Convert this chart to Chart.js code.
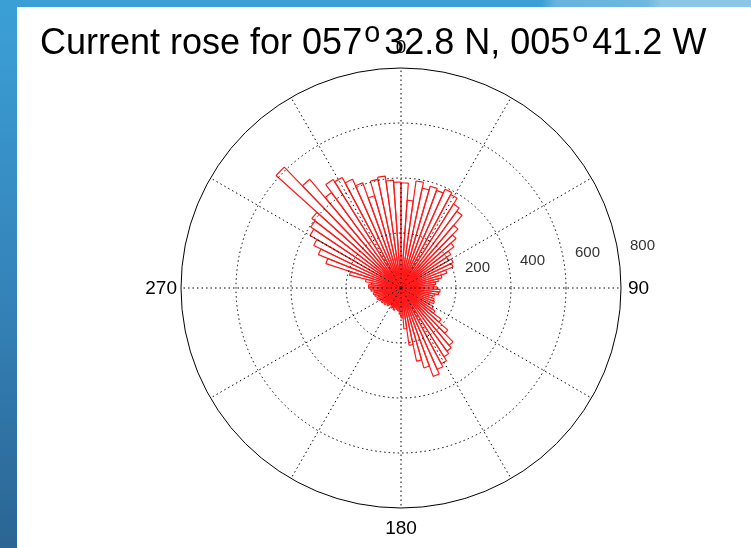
<!DOCTYPE html>
<html>
<head>
<meta charset="utf-8">
<script src="https://cdn.jsdelivr.net/npm/chart.js@4/dist/chart.umd.min.js"></script>
<style>
  html, body { margin: 0; padding: 0; }
  body {
    width: 751px; height: 548px; position: relative; overflow: hidden;
    background: linear-gradient(180deg, #3ba0d7 0%, #3482b8 55%, #2b6593 100%);
  }
  #topband {
    position: absolute; left: 0; top: 0; width: 751px; height: 7px;
    background: linear-gradient(100deg, #3a9fd5 0%, #3a9fd5 72%, #68b4de 74%, #6db7e0 86%, #8cc6e6 88%, #8cc6e6 100%);
  }
  #panel {
    position: absolute; left: 17px; top: 7px; right: 0; bottom: 0; background: #fff;
  }
  #title {
    position: absolute; left: 40px; top: 20px; white-space: nowrap;
    font-family: "Liberation Sans", Arial, Helvetica, sans-serif;
    font-size: 36px; color: #000; line-height: 44px; z-index: 2;
  }
  #title sup { font-size: 0.8em; vertical-align: 0.43em; line-height: 0; margin: 0 4px 0 2px; }
  canvas { position: absolute; left: 0; top: 0; z-index: 1; }
</style>
</head>
<body>
<div id="topband"></div>
<div id="panel"></div>
<div id="title">Current rose for 057<sup>o</sup>32.8 N, 005<sup>o</sup>41.2 W</div>
<canvas id="rose" width="751" height="548"></canvas>
<script>
// counts per 4 degree direction bin, clockwise from north (0-4, 4-8, ...)
const counts = [
  382, 320, 393, 371, 385, 378, 393, 385, 360, 345,
  298, 269, 244, 218, 200, 211, 204, 175, 153, 138,
  127, 120, 131, 142, 138, 124, 118, 127, 131, 116,
  135, 149, 185, 229, 272, 284, 295, 312, 324, 342,
  302, 272, 210, 149, 109, 95, 84, 80, 73, 84,
  76, 80, 69, 73, 80, 73, 84, 76, 87, 80,
  91, 95, 87, 98, 102, 98, 109, 113, 118, 109,
  131, 193, 287, 324, 353, 382, 396, 411, 611, 516,
  429, 465, 455, 433, 407, 349, 404, 411, 393, 385
];
const binWidth = 4;
const radialTicks = [200, 400, 600, 800];
const spokeAngles = [0, 30, 60, 90, 120, 150, 180, 210, 240, 270, 300, 330];
const angleLabels = ["0", "90", "180", "270"];
const angleLabelDirs = [0, 90, 180, 270];

const binLabels = counts.map((c, i) => (i * binWidth) + "-" + ((i + 1) * binWidth));
const FONT = "'Liberation Sans', Arial, Helvetica, sans-serif";

// dotted spokes + tick labels drawn on top of the bins
const roseDecor = {
  id: "roseDecor",
  afterDatasetsDraw(chart) {
    const s = chart.scales.r;
    const ctx = chart.ctx;
    const cx = s.xCenter, cy = s.yCenter;
    const R = s.getDistanceFromCenterForValue(radialTicks[radialTicks.length - 1]);
    ctx.save();
    ctx.strokeStyle = "#000";
    ctx.lineWidth = 1;
    ctx.setLineDash([1.5, 3]);
    spokeAngles.forEach((a) => {
      const t = (a - 90) * Math.PI / 180;
      ctx.beginPath();
      ctx.moveTo(cx, cy);
      ctx.lineTo(cx + R * Math.cos(t), cy + R * Math.sin(t));
      ctx.stroke();
    });
    ctx.setLineDash([]);

    // radial tick labels
    ctx.fillStyle = "#333";
    ctx.font = "15px " + FONT;
    ctx.textAlign = "left";
    ctx.textBaseline = "middle";
    radialTicks.forEach((v) => {
      const d = s.getDistanceFromCenterForValue(v);
      ctx.fillText(String(v), cx + d + 9, cy - 12 - 0.139 * d);
    });

    // direction labels
    ctx.fillStyle = "#000";
    ctx.font = "19px " + FONT;
    angleLabels.forEach((txt, i) => {
      const a = angleLabelDirs[i];
      if (a === 0) {
        ctx.textAlign = "center"; ctx.textBaseline = "middle";
        ctx.fillText(txt, cx, cy - R - 20);
      } else if (a === 90) {
        ctx.textAlign = "left"; ctx.textBaseline = "middle";
        ctx.fillText(txt, cx + R + 7, cy + 1);
      } else if (a === 180) {
        ctx.textAlign = "center"; ctx.textBaseline = "middle";
        ctx.fillText(txt, cx, cy + R + 21);
      } else {
        ctx.textAlign = "right"; ctx.textBaseline = "middle";
        ctx.fillText(txt, cx - R - 4, cy + 1);
      }
    });
    ctx.restore();
  }
};

new Chart(document.getElementById("rose"), {
  type: "polarArea",
  data: {
    labels: binLabels,
    datasets: [{
      data: counts,
      backgroundColor: "rgba(0,0,0,0)",
      borderColor: "#ff1a1a",
      borderWidth: 1.2
    }]
  },
  options: {
    responsive: false,
    animation: false,
    layout: { padding: { left: 181, top: 68, right: 130, bottom: 40 } },
    plugins: { legend: { display: false }, tooltip: { enabled: false } },
    scales: {
      r: {
        min: 0,
        max: 800,
        startAngle: 0,
        ticks: { display: false, stepSize: 200 },
        angleLines: { display: false },
        pointLabels: { display: false },
        grid: { circular: true, color: "#000", lineWidth: 1, z: 1 },
        border: { dash: (c) => (c.tick && c.tick.value === 800 ? [] : [1.5, 3]) }
      }
    }
  },
  plugins: [roseDecor]
});
</script>
</body>
</html>
